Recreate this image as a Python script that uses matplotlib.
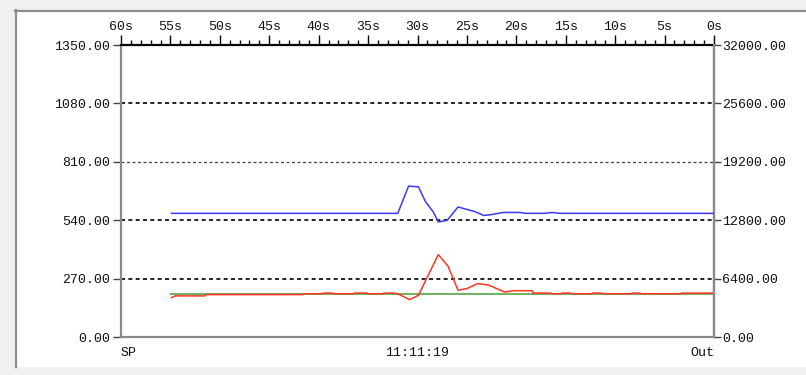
import matplotlib
matplotlib.use("Agg")
import matplotlib.pyplot as plt
from matplotlib.patches import Rectangle
from matplotlib.lines import Line2D

# Trend data: time is seconds before now (60s at left, 0s at right)
sp_t = [54.9, 0.0]
sp_v = [200, 200]

pv_t = [54.9, 54.5, 51.5, 51.4, 41.6, 41.5, 39.6, 39.5, 38.6, 38.5, 36.5, 36.4,
        35.1, 35.0, 33.5, 33.4, 32.5, 32.0, 30.8, 29.9, 27.9, 26.9, 25.9, 25.0,
        23.9, 22.8, 22.0, 21.2, 20.3, 18.4, 18.3, 16.5, 16.4, 15.5, 15.4, 14.5,
        14.4, 12.4, 12.3, 11.4, 11.3, 8.4, 8.3, 7.5, 7.4, 3.4, 3.3, 0.0]
pv_v = [182, 190, 190, 196, 196, 200, 200, 203, 203, 200, 200, 203,
        203, 200, 200, 203, 203, 200, 173, 193, 381, 327, 216, 224,
        247, 240, 224, 208, 214, 214, 203, 203, 200, 200, 203, 203,
        200, 200, 203, 203, 200, 200, 203, 203, 200, 200, 203, 203]

out_t = [54.9, 32.0, 30.9, 29.9, 29.2, 28.4, 27.9, 27.0, 25.9, 25.0, 24.2,
         23.3, 22.5, 21.3, 19.6, 19.1, 17.1, 16.4, 15.6, 0.0]
out_v = [13550, 13550, 16540, 16450, 14850, 13700, 12610, 12780, 14250, 13980, 13750,
         13320, 13420, 13650, 13650, 13550, 13550, 13650, 13550, 13550]

left_ticks = [0, 270, 540, 810, 1080, 1350]
right_ticks = [0, 6400, 12800, 19200, 25600, 32000]
time_ticks = list(range(60, -1, -5))
bottom_labels = ["SP", "11:11:19", "Out"]

W, H = 806, 375
fig = plt.figure(figsize=(W / 100, H / 100), dpi=100, facecolor="#f0f0f0")

# white panel with a grey inset border on the top and left
fig.patches.append(Rectangle((15 / W, 1 - 367 / H), 1, (367 - 10) / H,
                             transform=fig.transFigure, facecolor="white",
                             edgecolor="none", zorder=-10))
fig.lines.append(Line2D([15 / W, 1], [1 - 10.5 / H, 1 - 10.5 / H],
                        transform=fig.transFigure, color="#8c8c8c", lw=1.6, zorder=-9))
fig.lines.append(Line2D([15.5 / W, 15.5 / W], [1 - 367 / H, 1 - 10 / H],
                        transform=fig.transFigure, color="#8c8c8c", lw=1.6, zorder=-9))

ax = fig.add_axes([121 / W, 1 - 337 / H, (714 - 121) / W, (337 - 45) / H])
ax.set_facecolor("white")
ax2 = ax.twinx()

font = dict(family="Liberation Mono", size=9.5, color="#111111")

ax.set_xlim(60, 0)
ax.set_ylim(0, 1350)
ax2.set_ylim(0, 32000)

# top time axis
ax.xaxis.tick_top()
ax.set_xticks(time_ticks)
ax.set_xticklabels([f"{t}s" for t in time_ticks], **font)
ax.set_xticks(range(60, -1, -1), minor=True)
ax.tick_params(axis="x", which="major", direction="out", length=7, width=1,
               color="black", pad=2)
ax.tick_params(axis="x", which="minor", direction="out", length=3.5, width=1,
               color="black")
ax2.tick_params(axis="x", which="both", top=False, bottom=False,
                labeltop=False, labelbottom=False)

# left (SP) and right (Out) scales
ax.set_yticks(left_ticks)
ax.set_yticklabels([f"{v:.2f}" for v in left_ticks], **font)
ax.tick_params(axis="y", direction="out", length=6, width=1, color="#444444", pad=2)
ax2.set_yticks(right_ticks)
ax2.set_yticklabels([f"{v:.2f}" for v in right_ticks], **font)
ax2.tick_params(axis="y", direction="out", length=5, width=1, color="#444444", pad=1)

# dashed reference lines
ax.grid(axis="y", color="black", linestyle=(0, (2.4, 2.0)), linewidth=1.2)
ax.grid(axis="x", visible=False)
for gl, v in zip(ax.get_ygridlines(), left_ticks):
    if v in (0, 1350):
        gl.set_visible(False)
    elif v == 810:
        gl.set_color("#444444")
        gl.set_linewidth(0.9)

for name, sp in ax.spines.items():
    if name == "top":
        sp.set_color("black")
        sp.set_linewidth(1.6)
    else:
        sp.set_color("#8a8a8a")
        sp.set_linewidth(1.6)
for name, sp in ax2.spines.items():
    if name == "right":
        sp.set_color("#8a8a8a")
        sp.set_linewidth(1.6)
    else:
        sp.set_visible(False)

# trend lines
ax.plot(sp_t, sp_v, color="#6fae5f", lw=1.4, zorder=3)
ax.plot(pv_t, pv_v, color="#ff3522", lw=1.1, zorder=4)
ax2.plot(out_t, out_v, color="#3a3aff", lw=1.1, zorder=4)

# bottom captions
ax.text(0.0, -0.055, bottom_labels[0], transform=ax.transAxes, ha="left", va="center", **font)
ax.text(0.5, -0.055, bottom_labels[1], transform=ax.transAxes, ha="center", va="center", **font)
ax.text(1.0, -0.055, bottom_labels[2], transform=ax.transAxes, ha="right", va="center", **font)

fig.savefig("out.png", dpi=100, facecolor=fig.get_facecolor())
